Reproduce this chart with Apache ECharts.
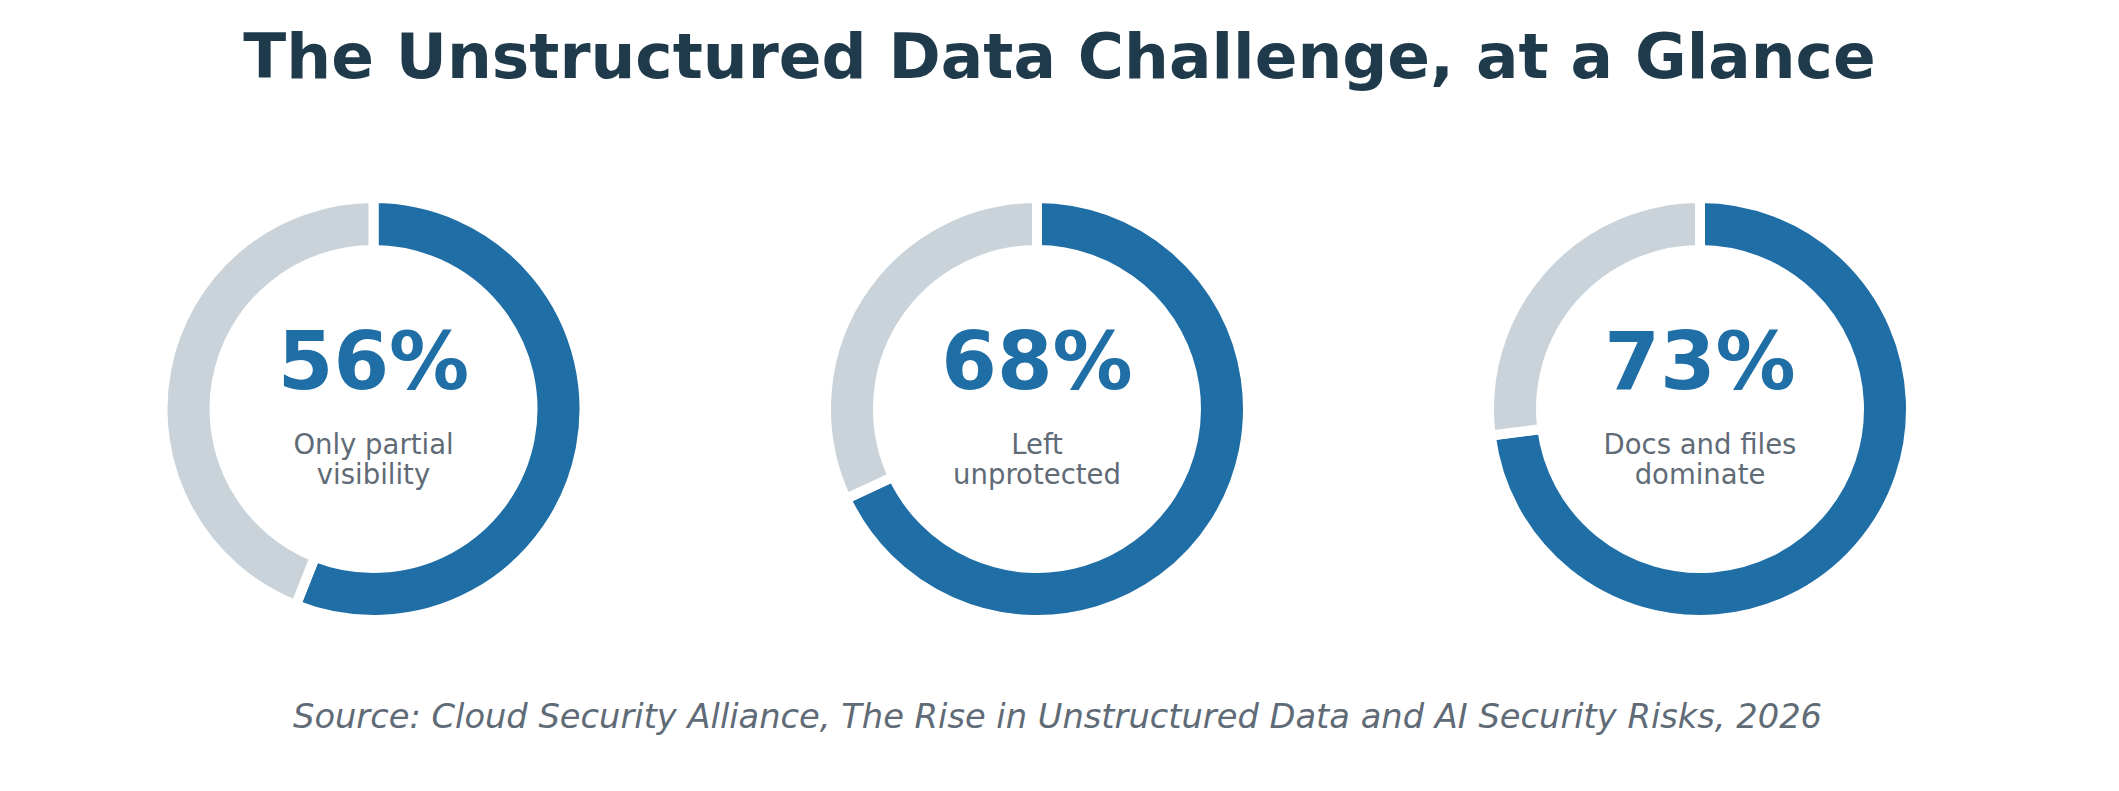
<!DOCTYPE html>
<html>
<head>
<meta charset="utf-8">
<script src="https://cdn.jsdelivr.net/npm/echarts@6/dist/echarts.min.js"></script>
<style>
html,body{margin:0;padding:0;background:#ffffff;}
#chart{width:2119px;height:791px;}
</style>
</head>
<body>
<div id="chart"></div>
<script>
// ---- data ----
const chartTitle = 'The Unstructured Data Challenge, at a Glance';
const sourceText = 'Source: Cloud Security Alliance, The Rise in Unstructured Data and AI Security Risks, 2026';
const metricValues = [56, 68, 73];
const metricLabels = ['Only partial\nvisibility', 'Left\nunprotected', 'Docs and files\ndominate'];
const restLabel = 'Other';

// ---- layout / style ----
const centersX = [373.5, 1037, 1700];
const centerY = 409;
const BLUE = '#1f6ea6';
const GREY = '#c9d3d9';
const FONT = '"DejaVu Sans", sans-serif';

const chart = echarts.init(document.getElementById('chart'), null, {renderer: 'svg', width: 2119, height: 791});

const series = metricValues.map((v, i) => ({
  type: 'pie',
  center: [centersX[i], centerY],
  radius: [159, 211],
  startAngle: 90,
  clockwise: true,
  silent: true,
  animation: false,
  label: {show: false},
  labelLine: {show: false},
  itemStyle: {borderColor: '#ffffff', borderWidth: 10},
  data: [
    {name: metricLabels[i], value: v, itemStyle: {color: BLUE}},
    {name: restLabel, value: 100 - v, itemStyle: {color: GREY}}
  ]
}));

const graphics = [];
metricValues.forEach((v, i) => {
  graphics.push({
    type: 'text', x: centersX[i], y: 361,
    style: {text: v + '%', font: 'bold 80px ' + FONT, fill: BLUE, align: 'center', verticalAlign: 'middle'}
  });
  graphics.push({
    type: 'text', x: centersX[i], y: 458.5,
    style: {text: metricLabels[i], font: '27.5px ' + FONT, fill: '#5f6b76', align: 'center', verticalAlign: 'middle', lineHeight: 30}
  });
});
graphics.push({
  type: 'text', x: 1059.5, y: 56,
  style: {text: chartTitle, font: 'bold 63px ' + FONT, fill: '#1f3a4b', align: 'center', verticalAlign: 'middle'}
});
graphics.push({
  type: 'text', x: 1057.5, y: 716.5,
  style: {text: sourceText, font: 'italic 33.7px ' + FONT, fill: '#5f6b76', align: 'center', verticalAlign: 'middle'}
});

chart.setOption({
  backgroundColor: '#ffffff',
  animation: false,
  series: series,
  graphic: graphics
});
</script>
</body>
</html>
